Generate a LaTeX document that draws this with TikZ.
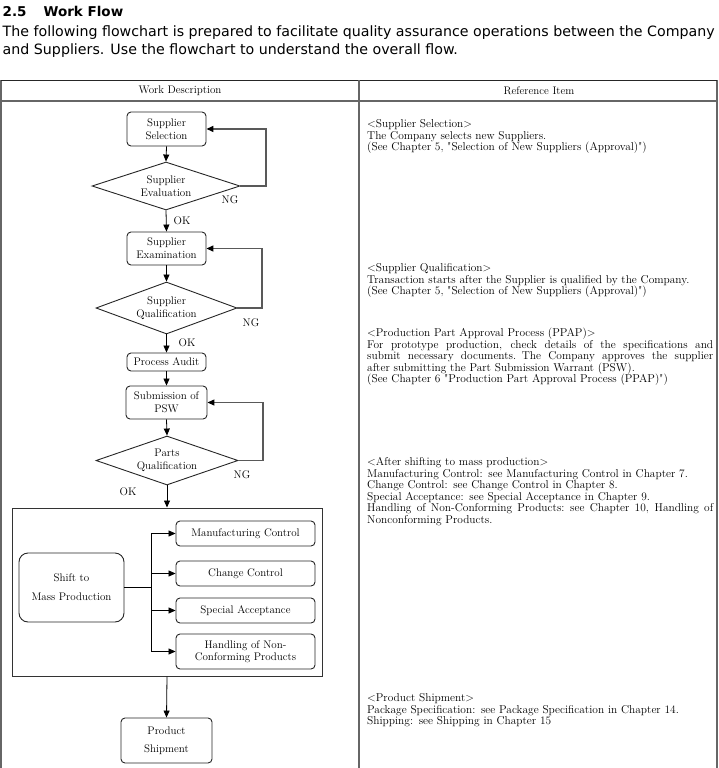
\documentclass[tikz,border=0pt]{standalone}
\usepackage{fontspec}
\newfontfamily\versans{DejaVu Sans}
\usetikzlibrary{arrows.meta,shapes.geometric}
\newlength\plw
\AtBeginDocument{\settowidth{\plw}{\versans\fontsize{12}{14}\selectfont The following flowchart is prepared to facilitate quality assurance operations between the Company}\global\plw=\plw}
\newcommand\jline[1]{\leavevmode\hbox to 346pt{\spaceskip=0.3em plus 1fill\relax #1}}
\newcommand\dq{\textquotedbl}
\begin{document}
\begin{tikzpicture}[x=1pt,y=-1pt,
  fc/.style={font=\fontsize{11}{13}\selectfont},
  rbox/.style={draw=black!85, line width=0.9pt, rounded corners=4pt, minimum width=79pt,
    align=center, inner sep=0pt, fc},
  dbox/.style={draw=black!85, line width=0.9pt, diamond, inner sep=0pt},
  lbl/.style={inner sep=0pt, align=center, fc},
  arr/.style={-{Triangle[length=7pt,width=6pt]}, line width=0.8pt},
  loopline/.style={-{Triangle[length=7pt,width=6pt,color=black]}, line width=1.3pt, draw=black!65},
  tl/.style={draw=black!60, line width=1.2pt},
  rtext/.style={anchor=base west, inner sep=0pt, text width=346pt, align=left,
    font=\fontsize{11.4}{11.5}\selectfont},
  hdr/.style={inner sep=0pt, font=\fontsize{11}{12}\selectfont}
]
\useasboundingbox (0,0) rectangle (718,768);
\pgfmathsetmacro{\bfs}{12*712/\the\plw}

% heading text
\node[anchor=base west, inner sep=0pt, font=\versans\bfseries\fontsize{13.5}{15}\selectfont] (title) at (2.5,17) {2.5\hspace{17pt}Work Flow};
\node[anchor=base west, inner sep=0pt, font=\versans\fontsize{\bfs}{14}\selectfont] (p1) at (2.5,37) {The following flowchart is prepared to facilitate quality assurance operations between the Company};
\node[anchor=base west, inner sep=0pt, font=\versans\fontsize{\bfs}{14}\selectfont] (p2) at (2.5,55) {and Suppliers. Use the flowchart to understand the overall flow.};

% table
\draw[tl] (1,768) -- (1,80);
\draw[tl] (717,80) -- (717,768);
\draw[draw=black!85, line width=1pt] (1,80) -- (717,80);
\draw[tl] (1,101) -- (717,101);
\draw[tl] (359,80) -- (359,768);
\node[hdr] (wd) at (180,91) {Work Description};
\node[hdr] (ri) at (539,91) {Reference Item};

% flowchart
\node[rbox, minimum height=34pt] (ss) at (166.5,129) {Supplier\\Selection};
\node[dbox, minimum width=148pt, minimum height=48pt,
  label={[lbl]center:Supplier\\Evaluation}] (se) at (166,186) {};
\node[rbox, minimum height=33pt] (sx) at (166.5,248.5) {Supplier\\Examination};
\node[dbox, minimum width=141pt, minimum height=52pt,
  label={[lbl]center:Supplier\\Qualification}] (sq) at (166.5,308) {};
\node[rbox, minimum height=18pt] (pa) at (166.5,362) {Process Audit};
\node[rbox, minimum width=81pt, minimum height=33pt] (psw) at (166.5,402.5) {Submission of\\PSW};
\node[dbox, minimum width=142pt, minimum height=49pt,
  label={[lbl]center:Parts\\Qualification}] (pq) at (167,460.5) {};

\draw[arr] (ss.south) -- (se.north);
\draw[arr] (se.south) -- (sx.north);
\draw[arr] (sx.south) -- (sq.north);
\draw[arr] (sq.south) -- (pa.north);
\draw[arr] (pa.south) -- (psw.north);
\draw[arr] (psw.south) -- (pq.north);

\draw[loopline] (se.east) -- (266,186) |- (ss.east);
\draw[loopline] (sq.east) -- (262,308) |- (sx.east);
\draw[loopline] (pq.east) -- (263,460.5) |- (psw.east);

\node[lbl] (ng1) at (230,200) {NG};
\node[lbl] (ok1) at (182,221) {OK};
\node[lbl] (ng2) at (251,323) {NG};
\node[lbl] (ok2) at (187,343) {OK};
\node[lbl] (ng3) at (242,475) {NG};
\node[lbl] (ok3) at (128,492) {OK};

% mass production box
\node[draw=black!80, line width=1pt, minimum width=310pt, minimum height=168pt, inner sep=0pt] (mass) at (167,592) {};
\node[draw=black!85, line width=0.9pt, rounded corners=9pt, minimum width=105pt, minimum height=69pt,
  align=center, inner sep=0pt, font=\fontsize{11}{19}\selectfont] (shift) at (71.5,587.5) {Shift to\\Mass Production};
\node[rbox, minimum width=139pt, minimum height=25pt] (mc) at (245.5,533.5) {Manufacturing Control};
\node[rbox, minimum width=139pt, minimum height=25pt] (cc) at (245.5,573.5) {Change Control};
\node[rbox, minimum width=139pt, minimum height=25pt] (sa) at (245.5,610.5) {Special Acceptance};
\node[rbox, minimum width=139pt, minimum height=35pt, font=\fontsize{11}{12}\selectfont] (hn) at (245.5,651.5) {Handling of Non-\\Conforming Products};
\coordinate (tk) at (151,587.5);
\draw[line width=1.4pt] (shift.east) -- (tk);
\draw[line width=0.9pt] (tk |- mc.west) -- (tk |- hn.west);
\draw[arr] (tk |- mc.west) -- (mc.west);
\draw[arr] (tk |- cc.west) -- (cc.west);
\draw[arr] (tk |- sa.west) -- (sa.west);
\draw[arr] (tk |- hn.west) -- (hn.west);

\node[rbox, minimum width=91pt, minimum height=45pt, font=\fontsize{11}{18}\selectfont] (ps) at (166.5,740.5) {Product\\Shipment};
\draw[arr] (pq.south) -- (mass.north);
\draw[arr] (mass.south) -- (ps.north);

% reference column
\node[rtext] (r1) at (367,127.5) {<Supplier Selection>\\The Company selects new Suppliers.\\(See Chapter 5, \dq Selection of New Suppliers (Approval)\dq)};
\node[rtext] (r2) at (367,271.5) {<Supplier Qualification>\\Transaction starts after the Supplier is qualified by the Company.\\(See Chapter 5, \dq Selection of New Suppliers (Approval)\dq)};
\node[rtext] (r3) at (367,336.5) {<Production Part Approval Process (PPAP)>\\
\jline{For prototype production, check details of the specifications and}\\
\jline{submit necessary documents. The Company approves the supplier}\\
after submitting the Part Submission Warrant (PSW).\\(See Chapter 6 \dq Production Part Approval Process (PPAP)\dq)};
\node[rtext] (r4) at (367,465.5) {<After shifting to mass production>\\Manufacturing Control: see Manufacturing Control in Chapter 7.\\Change Control: see Change Control in Chapter 8.\\Special Acceptance: see Special Acceptance in Chapter 9.\\
\jline{Handling of Non-Conforming Products: see Chapter 10, Handling of}\\Nonconforming Products.};
\node[rtext] (r5) at (367,701.5) {<Product Shipment>\\Package Specification: see Package Specification in Chapter 14.\\Shipping: see Shipping in Chapter 15};
\end{tikzpicture}
\end{document}
